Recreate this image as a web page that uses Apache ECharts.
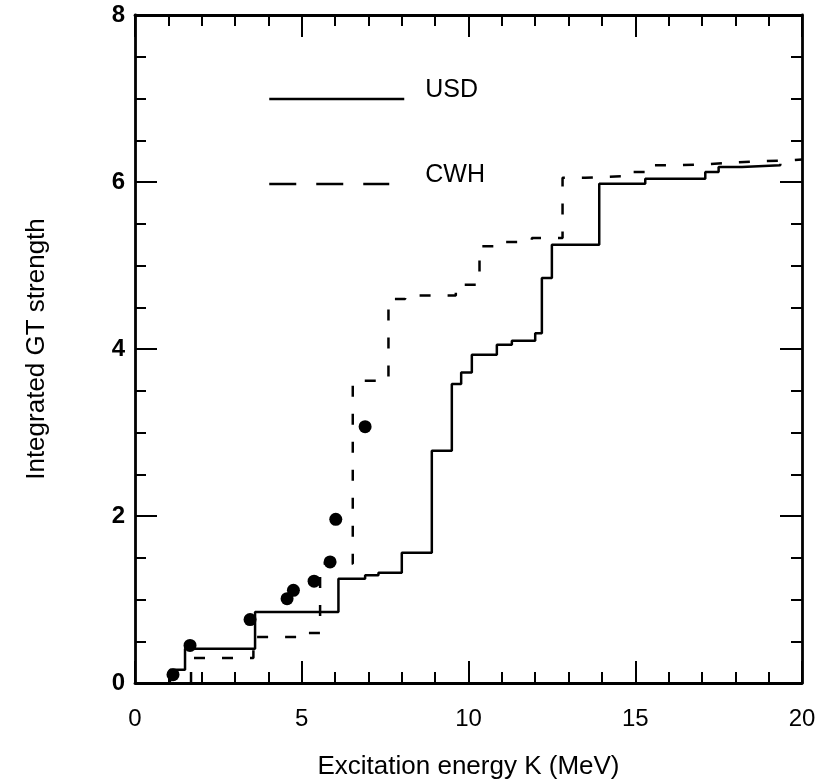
<!DOCTYPE html>
<html>
<head>
<meta charset="utf-8">
<script src="https://cdn.jsdelivr.net/npm/echarts@6/dist/echarts.min.js"></script>
<style>
html,body{margin:0;padding:0;background:#fff;}
#chart{width:816px;height:779px;}
</style>
</head>
<body>
<div id="chart"></div>
<script>
// USD shell-model cumulative GT strength (level reached at each energy)
var usdX = [1.05, 1.05, 1.5, 3.6, 6.1, 6.9, 7.3, 8.0, 8.9, 9.5, 9.78, 10.1, 10.85, 11.3, 12.0, 12.2, 12.5, 13.92, 15.3, 17.1, 17.5, 18.2, 19.35];
var usdY = [0, 0.16, 0.41, 0.85, 1.25, 1.29, 1.32, 1.56, 2.78, 3.58, 3.72, 3.93, 4.05, 4.1, 4.19, 4.85, 5.25, 5.98, 6.04, 6.12, 6.18, 6.2, 6.22];
// CWH cumulative GT strength
var cwhX = [1.68, 1.68, 3.55, 5.0, 5.55, 6.53, 7.6, 8.1, 9.62, 10.33, 11.1, 11.9, 12.82, 13.5, 14.6, 15.3, 16.0, 17.0, 17.8, 18.8, 19.6, 20];
var cwhY = [0, 0.30, 0.55, 0.6, 1.43, 3.62, 4.6, 4.64, 4.77, 5.23, 5.28, 5.33, 6.05, 6.07, 6.12, 6.2, 6.21, 6.23, 6.25, 6.26, 6.27, 6.27];
// Experimental points
var expX = [1.14, 1.65, 3.45, 4.56, 4.75, 5.37, 5.85, 6.02, 6.9];
var expY = [0.1, 0.45, 0.76, 1.01, 1.11, 1.22, 1.45, 1.96, 3.07];
// Axis ticks
var xTicks = [0, 5, 10, 15, 20];
var yTicks = [0, 2, 4, 6, 8];

function pairs(xs, ys) { return xs.map(function (x, i) { return [x, ys[i]]; }); }

var FONT = "'Liberation Sans', Arial, Helvetica, sans-serif";
var lineCol = '#000';

function makeAxis(base, extra) {
  var a = {
    axisLine: { show: true, onZero: false, lineStyle: { color: lineCol, width: 2.8 } },
    axisTick: { show: true, inside: true, length: 22, lineStyle: { color: lineCol, width: 2 } },
    splitLine: { show: false },
    minorSplitLine: { show: false }
  };
  for (var k in base) a[k] = base[k];
  for (var k2 in extra) a[k2] = extra[k2];
  return a;
}

var chart = echarts.init(document.getElementById('chart'), null, { renderer: 'canvas' });
var option = {
  backgroundColor: '#fff',
  animation: false,
  grid: { left: 135, right: 14, top: 15, bottom: 96, containLabel: false, outerBoundsMode: 'none' },
  xAxis: [
    makeAxis({ type: 'value', min: xTicks[0], max: xTicks[xTicks.length - 1], interval: 5 }, {
      position: 'bottom',
      minorTick: { show: true, splitNumber: 5, length: 11, lineStyle: { color: lineCol, width: 2 } },
      axisLabel: { show: true, margin: 24, fontSize: 24, color: '#000', fontFamily: FONT },
      name: 'Excitation energy K (MeV)',
      nameLocation: 'middle',
      nameGap: 71,
      nameTextStyle: { fontSize: 26, color: '#000', fontFamily: FONT }
    }),
    makeAxis({ type: 'value', min: xTicks[0], max: xTicks[xTicks.length - 1], interval: 5 }, {
      position: 'top',
      minorTick: { show: true, splitNumber: 5, length: 11, lineStyle: { color: lineCol, width: 2 } },
      axisLabel: { show: false }
    })
  ],
  yAxis: [
    makeAxis({ type: 'value', min: yTicks[0], max: yTicks[yTicks.length - 1], interval: 2 }, {
      position: 'left',
      minorTick: { show: true, splitNumber: 4, length: 11, lineStyle: { color: lineCol, width: 2 } },
      axisLabel: { show: true, margin: 10, fontSize: 24, fontWeight: 'bold', color: '#000', fontFamily: FONT },
      name: 'Integrated GT strength',
      nameLocation: 'middle',
      nameGap: 85,
      nameTextStyle: { fontSize: 26, color: '#000', fontFamily: FONT }
    }),
    makeAxis({ type: 'value', min: yTicks[0], max: yTicks[yTicks.length - 1], interval: 2 }, {
      position: 'right',
      minorTick: { show: true, splitNumber: 4, length: 11, lineStyle: { color: lineCol, width: 2 } },
      axisLabel: { show: false }
    })
  ],
  legend: [
    {
      data: ['USD'], left: 268, top: 78, padding: 0,
      itemWidth: 135, itemHeight: 14,
      formatter: function (n) { return n + '\n'; },
      itemStyle: { opacity: 0 },
      lineStyle: { width: 2.5, type: 'solid', color: '#000' },
      textStyle: { fontSize: 25, lineHeight: 17, color: '#000', fontFamily: FONT, padding: [0, 0, 0, 16] }
    },
    {
      data: ['CWH'], left: 268, top: 163, padding: 0,
      itemWidth: 120, itemHeight: 14,
      formatter: function (n) { return n + '\n'; },
      itemStyle: { opacity: 0 },
      lineStyle: { width: 2.5, type: [27, 20], color: '#000' },
      textStyle: { fontSize: 25, lineHeight: 17, color: '#000', fontFamily: FONT, padding: [0, 0, 0, 31] }
    }
  ],
  series: [
    {
      name: 'USD', type: 'line', step: 'end', symbol: 'none',
      xAxisIndex: 0, yAxisIndex: 0,
      lineStyle: { color: '#000', width: 2.5, type: 'solid' },
      itemStyle: { color: '#000' },
      data: pairs(usdX, usdY), z: 3
    },
    {
      name: 'CWH', type: 'line', step: 'end', symbol: 'none',
      xAxisIndex: 0, yAxisIndex: 0,
      lineStyle: { color: '#000', width: 2.5, type: [11, 17] },
      itemStyle: { color: '#000' },
      data: pairs(cwhX, cwhY), z: 3
    },
    {
      name: 'Experiment', type: 'scatter', symbol: 'circle', symbolSize: 13,
      xAxisIndex: 0, yAxisIndex: 0,
      itemStyle: { color: '#000', opacity: 1 },
      data: pairs(expX, expY), z: 4
    }
  ]
};
chart.setOption(option);
</script>
</body>
</html>
